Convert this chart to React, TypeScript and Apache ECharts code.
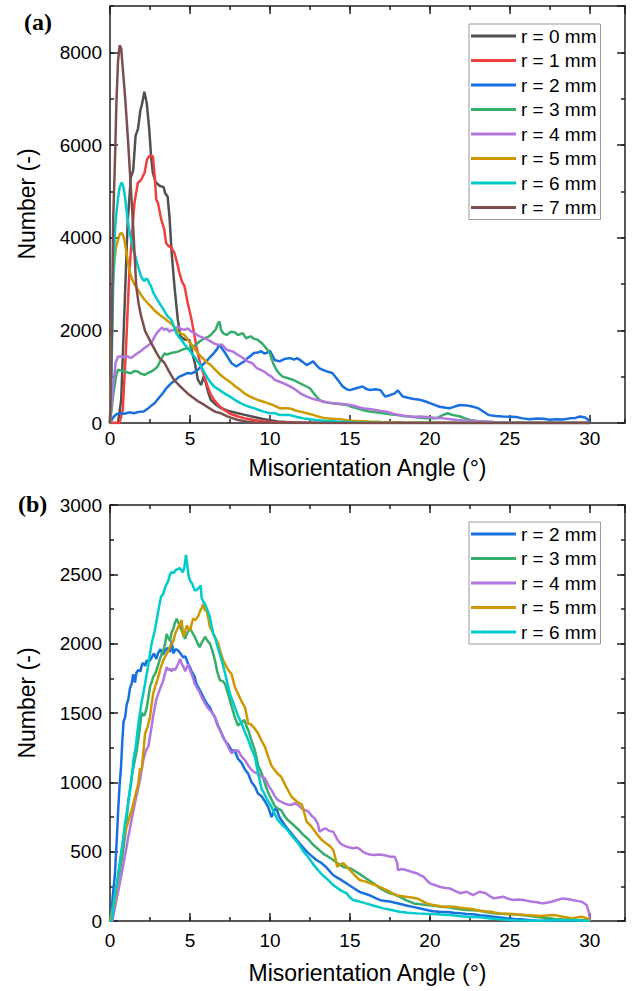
import React, { useEffect, useRef } from "react";
import * as echarts from "echarts";

// ---------- data ----------
const namesA = ["r = 0 mm", "r = 1 mm", "r = 2 mm", "r = 3 mm", "r = 4 mm", "r = 5 mm", "r = 6 mm", "r = 7 mm"];
const namesB = ["r = 2 mm", "r = 3 mm", "r = 4 mm", "r = 5 mm", "r = 6 mm"];
const colorsA = ["#515151", "#F14040", "#1A6FDF", "#37AD6B", "#B177DE", "#CC9900", "#00CBCC", "#7D4E4E"];
const colorsB = ["#1A6FDF", "#37AD6B", "#B177DE", "#CC9900", "#00CBCC"];

const xTicks = [0, 5, 10, 15, 20, 25, 30];

// panel (a): [angle, number]
const a_r0 = [[0,0],[0.5,0],[0.7,500],[0.9,2400],[1.1,4300],[1.3,5300],[1.45,5450],[1.6,6200],[1.75,6350],[1.9,6750],[2.0,6880],[2.15,7150],[2.3,6900],[2.45,6350],[2.57,5750],[2.68,5400],[2.85,5200],[3.1,5120],[3.35,5090],[3.45,4960],[3.6,4890],[3.72,4450],[3.85,3700],[4.03,2950],[4.24,2230],[4.4,1870],[4.66,1800],[4.97,1790],[5.15,1500],[5.3,1300],[5.5,930],[5.7,820],[5.85,1000],[6.0,860],[6.15,650],[6.3,500],[6.6,400],[6.95,320],[7.4,260],[8.0,210],[8.5,170],[9.0,130],[9.5,90],[10,60],[10.5,35],[11,20],[12,8],[14,3],[16,0],[30,0]];
const a_r1 = [[0,0],[0.6,0],[0.8,300],[1.0,1600],[1.2,3200],[1.4,4200],[1.53,4750],[1.74,5180],[1.95,5250],[2.16,5400],[2.32,5690],[2.45,5760],[2.68,5760],[2.8,5300],[2.89,4820],[3.0,4750],[3.2,4400],[3.4,4170],[3.5,3890],[3.65,3820],[3.8,3800],[4.03,3670],[4.2,3450],[4.34,3240],[4.5,3050],[4.66,2950],[4.86,2590],[5.1,2230],[5.25,1950],[5.4,1650],[5.55,1420],[5.7,1220],[5.9,1000],[6.1,790],[6.3,620],[6.5,500],[6.8,380],[7.15,280],[7.5,200],[8.0,140],[8.5,95],[9,65],[9.5,40],[10,20],[11,8],[12,3],[14,0],[30,0]];
const a_r2 = [[0,0],[0.2,120],[0.4,190],[0.6,210],[0.9,200],[1.2,230],[1.5,210],[1.8,240],[2.1,250],[2.4,320],[2.6,380],[2.8,430],[3.05,540],[3.3,640],[3.55,760],[3.83,860],[4.1,930],[4.34,1000],[4.6,1040],[4.86,1080],[5.1,1070],[5.28,1100],[5.5,1150],[5.7,1220],[5.9,1290],[6.1,1360],[6.3,1440],[6.5,1510],[6.7,1600],[6.84,1690],[7.0,1610],[7.2,1510],[7.4,1400],[7.6,1290],[7.9,1220],[8.2,1290],[8.4,1330],[8.6,1400],[8.8,1450],[9.0,1510],[9.25,1520],[9.45,1550],[9.65,1500],[9.85,1520],[10.0,1560],[10.3,1360],[10.6,1330],[10.9,1380],[11.25,1400],[11.5,1370],[11.7,1400],[12.0,1330],[12.3,1250],[12.5,1290],[12.7,1330],[12.9,1250],[13.1,1180],[13.5,1120],[13.9,1080],[14.2,950],[14.55,790],[14.8,730],[15.0,710],[15.4,750],[15.8,790],[16.0,740],[16.25,710],[16.6,730],[16.9,710],[17.2,570],[17.5,600],[17.8,640],[18.0,700],[18.3,570],[18.7,540],[19.0,520],[19.35,500],[19.7,470],[20,430],[20.3,390],[20.6,350],[21.0,330],[21.25,320],[21.6,360],[21.9,390],[22.3,380],[22.7,350],[23.0,320],[23.2,280],[23.5,210],[23.7,170],[24.1,150],[24.55,140],[25.0,135],[25.4,130],[25.8,100],[26.25,80],[26.7,95],[27.1,90],[27.5,70],[27.9,80],[28.3,75],[28.75,100],[29.1,110],[29.4,140],[29.7,120],[29.9,70],[30,0]];
const a_r3 = [[0,0],[0.2,600],[0.4,1050],[0.5,1150],[0.7,1130],[0.9,1110],[1.1,1090],[1.32,1075],[1.5,1120],[1.74,1110],[1.95,1060],[2.16,1040],[2.4,1080],[2.57,1110],[2.8,1160],[2.98,1220],[3.2,1380],[3.4,1500],[3.6,1480],[3.8,1510],[4.0,1520],[4.24,1540],[4.5,1580],[4.76,1610],[5.0,1600],[5.2,1650],[5.4,1700],[5.6,1760],[5.9,1830],[6.1,1850],[6.3,1900],[6.5,1980],[6.6,2010],[6.75,2150],[6.84,2190],[6.95,2000],[7.1,1930],[7.3,1900],[7.55,1970],[7.8,1960],[8.0,1900],[8.3,1940],[8.5,1830],[8.8,1870],[9.0,1820],[9.2,1800],[9.5,1720],[9.8,1600],[10.0,1500],[10.2,1290],[10.4,1150],[10.6,1060],[10.8,1000],[11.1,970],[11.45,930],[11.8,870],[12.1,820],[12.5,750],[12.7,660],[12.9,570],[13.1,500],[13.3,460],[13.6,440],[13.9,425],[14.3,410],[14.8,390],[15.1,350],[15.4,320],[15.8,280],[16.2,250],[16.6,230],[17.1,210],[17.5,190],[17.9,175],[18.3,150],[18.7,140],[19.2,120],[19.8,100],[20.4,100],[20.8,170],[21.1,210],[21.4,175],[21.9,140],[22.2,100],[22.5,65],[23.0,40],[23.3,30],[24.0,15],[24.6,10],[26,3],[28,0],[30,0]];
const a_r4 = [[0,0],[0.2,800],[0.35,1300],[0.5,1430],[0.7,1440],[0.9,1420],[1.1,1440],[1.32,1400],[1.5,1450],[1.74,1510],[1.95,1560],[2.16,1620],[2.4,1680],[2.57,1720],[2.8,1870],[2.95,1950],[3.1,2010],[3.25,2060],[3.4,2010],[3.55,2040],[3.7,1970],[3.85,2000],[4.0,2010],[4.24,2080],[4.45,2030],[4.66,2010],[4.85,2040],[4.97,2010],[5.1,1970],[5.28,1940],[5.45,1900],[5.6,1870],[5.9,1830],[6.1,1800],[6.3,1760],[6.5,1720],[6.7,1690],[7.0,1690],[7.3,1580],[7.5,1560],[7.7,1540],[7.95,1480],[8.2,1430],[8.4,1380],[8.6,1330],[8.9,1290],[9.2,1180],[9.4,1150],[9.65,1110],[9.85,1050],[10.1,1000],[10.3,930],[10.6,890],[10.9,850],[11.25,790],[11.6,720],[11.9,640],[12.3,570],[12.6,530],[12.9,500],[13.3,470],[13.7,440],[14.1,420],[14.55,410],[14.9,395],[15.2,380],[15.5,345],[15.8,320],[16.2,300],[16.6,280],[16.95,260],[17.3,245],[17.7,200],[18.1,175],[18.5,150],[19.0,135],[19.4,140],[19.8,130],[20.3,115],[20.85,100],[21.3,80],[21.7,65],[22.1,55],[22.5,50],[23,40],[23.5,30],[24.0,20],[24.6,15],[25.5,10],[27,5],[30,3]];
const a_r5 = [[0,0],[0.1,1500],[0.17,2950],[0.28,3500],[0.38,3810],[0.5,3950],[0.62,4080],[0.73,4100],[0.82,4050],[0.9,3950],[1.0,3750],[1.1,3520],[1.2,3330],[1.32,3160],[1.5,3010],[1.74,2880],[1.95,2760],[2.16,2660],[2.35,2590],[2.57,2510],[2.75,2440],[2.98,2370],[3.2,2310],[3.4,2260],[3.6,2200],[3.83,2150],[4.0,2080],[4.24,1970],[4.45,1930],[4.66,1900],[4.9,1780],[5.1,1690],[5.3,1590],[5.5,1510],[5.7,1430],[5.9,1360],[6.1,1300],[6.3,1250],[6.5,1180],[6.7,1110],[6.9,1040],[7.15,970],[7.4,910],[7.6,860],[7.8,800],[8.0,750],[8.2,700],[8.4,640],[8.7,580],[9.0,530],[9.3,490],[9.6,460],[9.85,430],[10.1,400],[10.3,370],[10.6,320],[10.9,320],[11.25,315],[11.6,270],[11.9,245],[12.3,210],[12.7,175],[13.1,130],[13.5,100],[13.9,90],[14.4,80],[14.8,60],[15.2,50],[15.7,40],[16.2,30],[17,20],[18.3,10],[20,5],[22,0],[30,0]];
const a_r6 = [[0,0],[0.1,1200],[0.2,3000],[0.3,4100],[0.38,4460],[0.5,4850],[0.6,5080],[0.73,5190],[0.82,5120],[0.9,4970],[1.0,4700],[1.1,4400],[1.2,4170],[1.32,3960],[1.48,3720],[1.64,3520],[1.8,3320],[1.95,3160],[2.05,3100],[2.16,3060],[2.25,3120],[2.36,3090],[2.47,3000],[2.57,2950],[2.7,2820],[2.89,2700],[3.1,2580],[3.3,2480],[3.45,2390],[3.6,2300],[3.83,2230],[4.0,2080],[4.14,1940],[4.3,1860],[4.45,1800],[4.65,1700],[4.86,1620],[5.05,1530],[5.28,1430],[5.5,1320],[5.7,1220],[5.9,1090],[6.1,970],[6.3,870],[6.5,790],[6.8,720],[7.15,640],[7.5,570],[7.8,500],[8.1,440],[8.4,390],[8.7,350],[9.0,320],[9.3,280],[9.6,245],[9.95,215],[10.3,210],[10.6,175],[10.9,175],[11.25,170],[11.7,130],[12.1,100],[12.5,80],[12.9,65],[13.5,45],[14.2,30],[15.4,10],[17,3],[19,0],[30,0]];
const a_r7 = [[0,0],[0.1,1500],[0.2,4400],[0.31,5650],[0.4,6900],[0.5,7800],[0.6,8150],[0.7,8080],[0.8,7650],[0.94,7050],[1.05,6500],[1.15,5970],[1.31,5040],[1.46,4170],[1.64,2950],[1.8,2550],[1.95,2300],[2.2,1980],[2.57,1730],[2.9,1520],[3.1,1400],[3.4,1300],[3.7,1110],[4.0,930],[4.3,820],[4.6,720],[4.85,640],[5.1,570],[5.5,470],[5.9,390],[6.3,300],[6.6,240],[6.95,210],[7.3,150],[7.6,110],[8.0,65],[8.5,35],[9,18],[10,5],[11,0],[30,0]];

// panel (b)
const b_r2 = [[0,0],[0.15,150],[0.31,340],[0.45,650],[0.52,820],[0.6,980],[0.69,1110],[0.77,1300],[0.85,1440],[0.95,1470],[1.04,1560],[1.15,1600],[1.25,1680],[1.35,1710],[1.45,1780],[1.56,1720],[1.65,1790],[1.77,1810],[1.9,1800],[2.0,1850],[2.08,1860],[2.2,1840],[2.3,1880],[2.45,1870],[2.6,1900],[2.75,1930],[2.9,1890],[3.0,1930],[3.15,1960],[3.3,1920],[3.44,1950],[3.6,1970],[3.75,1940],[3.85,2020],[3.96,1930],[4.1,1960],[4.27,1950],[4.4,1930],[4.58,1900],[4.7,1910],[4.8,1880],[4.9,1850],[5.0,1830],[5.1,1800],[5.2,1780],[5.3,1760],[5.4,1710],[5.55,1680],[5.73,1640],[5.94,1590],[6.1,1560],[6.25,1540],[6.4,1500],[6.56,1470],[6.7,1420],[6.88,1380],[7.05,1330],[7.19,1300],[7.4,1270],[7.6,1230],[7.8,1230],[8.0,1170],[8.23,1140],[8.45,1090],[8.65,1060],[8.85,1000],[9.06,970],[9.25,920],[9.48,900],[9.7,860],[9.9,820],[10.1,750],[10.25,790],[10.4,820],[10.55,760],[10.7,730],[11.0,680],[11.35,630],[11.7,580],[12.0,540],[12.3,500],[12.6,470],[12.9,440],[13.2,420],[13.5,390],[13.96,330],[14.4,300],[14.8,270],[15.2,240],[15.6,210],[16.0,195],[16.25,185],[16.6,165],[16.9,150],[17.2,145],[17.5,140],[18.1,125],[18.6,110],[19.0,100],[19.4,90],[19.8,80],[20.2,70],[20.7,65],[21.1,65],[21.5,60],[22.0,55],[22.3,50],[22.7,48],[23.1,42],[23.5,38],[24.0,30],[24.4,25],[24.8,20],[25.3,15],[25.7,12],[26.3,5],[26.9,0],[27.5,5],[28.1,5],[28.7,3],[29.4,2],[30,5]];
const b_r3 = [[0,0],[0.2,120],[0.52,300],[0.75,450],[0.94,610],[1.05,740],[1.15,870],[1.25,950],[1.35,1040],[1.5,1130],[1.67,1230],[1.8,1330],[1.98,1500],[2.15,1480],[2.3,1540],[2.4,1610],[2.5,1690],[2.6,1720],[2.7,1760],[2.85,1790],[3.02,1850],[3.15,1900],[3.33,1950],[3.45,2000],[3.54,2070],[3.65,2040],[3.75,2020],[3.85,2080],[3.96,2110],[4.06,2150],[4.17,2180],[4.28,2150],[4.38,2120],[4.5,2090],[4.6,2060],[4.69,2035],[4.8,2070],[4.9,2090],[5.0,2110],[5.15,2080],[5.3,2050],[5.45,2010],[5.6,1975],[5.75,2010],[5.94,2050],[6.1,2020],[6.25,2000],[6.4,1950],[6.56,1880],[6.7,1800],[6.88,1735],[7.05,1730],[7.19,1710],[7.35,1650],[7.5,1590],[7.65,1530],[7.8,1470],[8.0,1410],[8.2,1430],[8.4,1450],[8.55,1400],[8.65,1375],[8.85,1300],[9.06,1230],[9.27,1120],[9.5,1060],[9.69,990],[9.85,940],[10.0,900],[10.3,830],[10.5,810],[10.7,800],[10.9,760],[11.1,730],[11.4,700],[11.77,660],[12.1,620],[12.4,590],[12.7,550],[13.0,520],[13.4,480],[13.7,460],[13.96,440],[14.3,410],[14.6,390],[15.0,380],[15.2,368],[15.6,340],[16.0,308],[16.5,270],[16.9,235],[17.2,215],[17.5,200],[17.8,190],[18.1,175],[18.5,150],[19.0,127],[19.4,120],[19.8,115],[20.3,110],[20.7,103],[21.1,100],[21.5,91],[21.9,85],[22.3,79],[22.7,78],[23.1,74],[23.5,65],[24.0,55],[24.4,52],[24.8,50],[25.3,46],[25.7,43],[26.2,36],[26.6,31],[27.0,25],[27.4,19],[27.8,15],[28.25,12],[28.7,10],[29.1,7],[29.6,6],[30,5]];
const b_r4 = [[0,0],[0.15,0],[0.4,150],[0.73,340],[0.95,480],[1.15,610],[1.35,730],[1.56,850],[1.75,950],[1.88,1020],[2.08,1160],[2.25,1230],[2.4,1260],[2.5,1330],[2.6,1400],[2.7,1480],[2.8,1540],[2.9,1600],[3.02,1640],[3.15,1680],[3.33,1735],[3.45,1790],[3.54,1830],[3.65,1810],[3.75,1820],[3.85,1800],[3.96,1820],[4.05,1810],[4.17,1830],[4.28,1860],[4.38,1890],[4.5,1850],[4.6,1830],[4.7,1800],[4.8,1830],[4.9,1850],[5.0,1810],[5.1,1780],[5.2,1750],[5.3,1710],[5.45,1680],[5.6,1650],[5.75,1610],[5.94,1570],[6.1,1540],[6.25,1520],[6.4,1500],[6.56,1470],[6.7,1430],[6.77,1400],[6.98,1350],[7.15,1310],[7.29,1280],[7.45,1240],[7.6,1210],[7.8,1230],[8.0,1230],[8.2,1190],[8.44,1160],[8.65,1120],[8.85,1090],[9.06,1070],[9.27,1064],[9.5,1040],[9.69,1030],[9.9,980],[10.1,944],[10.3,900],[10.5,872],[10.7,860],[10.9,848],[11.1,840],[11.35,836],[11.55,850],[11.77,836],[12.0,810],[12.2,800],[12.4,790],[12.6,760],[12.8,740],[13.0,700],[13.1,644],[13.3,660],[13.5,668],[13.7,650],[13.96,644],[14.2,590],[14.4,560],[14.6,545],[14.8,536],[15.0,530],[15.2,524],[15.4,530],[15.6,520],[15.8,500],[16.0,488],[16.25,480],[16.5,476],[16.8,480],[17.1,476],[17.3,470],[17.5,464],[17.8,464],[17.95,420],[18.0,368],[18.25,375],[18.5,368],[18.85,355],[19.2,343],[19.4,330],[19.6,320],[19.8,295],[20.0,271],[20.3,260],[20.6,247],[20.9,240],[21.25,235],[21.6,215],[21.9,200],[22.3,211],[22.7,187],[23.1,211],[23.5,200],[23.8,175],[24.0,163],[24.3,170],[24.6,175],[24.9,160],[25.2,151],[25.5,155],[25.85,151],[26.1,145],[26.4,139],[26.7,135],[27.0,127],[27.3,132],[27.6,139],[27.9,150],[28.3,163],[28.6,158],[28.9,151],[29.2,145],[29.5,139],[29.8,115],[29.95,60],[30,0]];
const b_r5 = [[0,0],[0.3,130],[0.6,400],[0.83,584],[1.0,660],[1.2,740],[1.4,820],[1.56,896],[1.75,980],[1.88,1100],[1.98,1090],[2.19,1350],[2.35,1400],[2.5,1470],[2.6,1560],[2.7,1640],[2.85,1700],[3.02,1760],[3.15,1820],[3.33,1880],[3.5,1920],[3.65,1950],[3.8,1990],[3.96,2020],[4.1,2080],[4.27,2120],[4.4,2150],[4.48,2170],[4.58,2050],[4.7,2090],[4.8,2130],[4.9,2110],[5.0,2095],[5.1,2140],[5.2,2180],[5.35,2170],[5.52,2200],[5.65,2240],[5.75,2260],[5.83,2287],[5.94,2240],[6.04,2240],[6.15,2180],[6.25,2120],[6.35,2100],[6.46,2070],[6.6,2040],[6.77,2000],[6.9,1940],[7.08,1880],[7.25,1840],[7.4,1810],[7.6,1780],[7.8,1690],[8.0,1640],[8.2,1590],[8.44,1540],[8.55,1480],[8.65,1420],[8.8,1420],[8.96,1400],[9.1,1380],[9.27,1350],[9.48,1300],[9.69,1256],[9.9,1180],[10.1,1120],[10.3,1088],[10.5,1060],[10.7,1040],[11.0,970],[11.35,896],[11.7,860],[12.0,840],[12.3,716],[12.6,680],[12.9,632],[13.2,590],[13.5,560],[13.75,540],[13.96,512],[14.1,450],[14.2,391],[14.4,410],[14.6,416],[14.8,390],[15.0,368],[15.3,330],[15.6,296],[16.0,284],[16.3,270],[16.6,259],[16.95,240],[17.3,223],[17.6,205],[17.9,187],[18.2,180],[18.5,175],[18.85,170],[19.2,163],[19.5,145],[19.8,127],[20.2,115],[20.5,110],[20.8,103],[21.2,105],[21.5,103],[21.9,95],[22.3,91],[22.7,85],[23.1,74],[23.45,70],[23.8,67],[24.1,60],[24.4,55],[24.8,52],[25.2,50],[25.6,46],[26.0,43],[26.5,40],[26.9,36],[27.3,40],[27.7,43],[28.0,38],[28.3,31],[28.6,25],[28.9,19],[29.2,25],[29.5,31],[29.8,19],[29.95,10],[30,0]];
const b_r6 = [[0,0],[0.1,0],[0.3,180],[0.52,343],[0.75,530],[0.94,703],[1.15,860],[1.35,1015],[1.46,1160],[1.6,1250],[1.77,1420],[1.95,1560],[2.19,1711],[2.4,1850],[2.6,2000],[2.8,2095],[2.95,2190],[3.1,2287],[3.2,2340],[3.33,2360],[3.5,2420],[3.65,2455],[3.75,2500],[3.85,2515],[4.0,2510],[4.1,2530],[4.27,2540],[4.38,2545],[4.55,2515],[4.65,2550],[4.75,2640],[4.82,2580],[4.9,2500],[5.0,2455],[5.15,2430],[5.3,2383],[5.45,2390],[5.6,2407],[5.67,2420],[5.73,2330],[5.85,2300],[5.94,2287],[6.1,2240],[6.25,2191],[6.35,2130],[6.46,2071],[6.55,2050],[6.67,2000],[6.8,1950],[6.98,1880],[7.1,1830],[7.2,1783],[7.35,1710],[7.5,1639],[7.65,1590],[7.8,1543],[8.0,1480],[8.23,1423],[8.45,1360],[8.65,1303],[8.85,1240],[9.06,1183],[9.27,1060],[9.48,950],[9.6,930],[9.8,880],[10.1,824],[10.3,770],[10.5,728],[10.8,690],[11.1,656],[11.4,610],[11.77,560],[12.1,500],[12.4,460],[12.7,410],[13.0,368],[13.3,330],[13.6,300],[13.96,259],[14.3,230],[14.6,210],[14.8,200],[15.0,170],[15.2,151],[15.6,140],[16.0,127],[16.5,110],[17.1,91],[17.6,80],[18.1,67],[18.6,60],[19.2,55],[19.7,52],[20.2,50],[20.7,46],[21.25,43],[21.8,36],[22.3,31],[22.8,29],[23.3,26],[23.8,18],[24.4,12],[24.9,8],[25.4,5],[26,3],[27,2],[28,5],[29,8],[30,0]];

const seriesA = [a_r0, a_r1, a_r2, a_r3, a_r4, a_r5, a_r6, a_r7];
const seriesB = [b_r2, b_r3, b_r4, b_r5, b_r6];

// ---------- styling ----------
const FONT = '"Liberation Sans", Arial, sans-serif';
const AX = "#222";
const XMAX = 32.2;

function xAxesFor(grid: number, labelMargin: number, nameGap: number) {
  const base: any = { type: "value", gridIndex: grid, min: 0, max: XMAX, splitLine: { show: false } };
  const line = { show: true, onZero: false, lineStyle: { color: AX, width: 1.5 } };
  const noLine = { show: false, onZero: false };
  const tick = (len: number) => ({ show: true, inside: true, length: len, lineStyle: { color: AX, width: 1.5 } });
  return [
    {
      ...base, position: "bottom", interval: 5, axisLine: line, axisTick: tick(8),
      axisLabel: {
        margin: labelMargin, fontSize: 19, color: "#000", fontFamily: FONT, showMaxLabel: false,
        formatter: (v: number) => (xTicks.indexOf(v) >= 0 ? String(v) : ""),
      },
      name: "Misorientation Angle (°)", nameLocation: "middle", nameGap,
      nameTextStyle: { fontSize: 23, color: "#000", fontFamily: FONT },
    },
    { ...base, position: "bottom", interval: 2.5, axisLine: noLine, axisTick: tick(4), axisLabel: { show: false } },
    { ...base, position: "top", interval: 5, axisLine: line, axisTick: tick(8), axisLabel: { show: false } },
    { ...base, position: "top", interval: 2.5, axisLine: noLine, axisTick: tick(4), axisLabel: { show: false } },
  ];
}

function yAxesFor(grid: number, max: number, major: number) {
  const base: any = { type: "value", gridIndex: grid, min: 0, max, splitLine: { show: false } };
  const line = { show: true, onZero: false, lineStyle: { color: AX, width: 1.5 } };
  const noLine = { show: false, onZero: false };
  const tick = (len: number) => ({ show: true, inside: true, length: len, lineStyle: { color: AX, width: 1.5 } });
  return [
    {
      ...base, position: "left", interval: major, axisLine: line, axisTick: tick(8),
      axisLabel: {
        margin: 8, fontSize: 19, color: "#000", fontFamily: FONT, showMaxLabel: max % major === 0,
        formatter: (v: number) => (v % major === 0 ? String(v) : ""),
      },
    },
    { ...base, position: "left", interval: major / 2, axisLine: noLine, axisTick: tick(4), axisLabel: { show: false } },
    { ...base, position: "right", interval: major, axisLine: line, axisTick: tick(8), axisLabel: { show: false } },
    { ...base, position: "right", interval: major / 2, axisLine: noLine, axisTick: tick(4), axisLabel: { show: false } },
  ];
}

function legendFor(names: string[], top: number) {
  return {
    data: names,
    orient: "vertical",
    left: 469,
    top,
    padding: [1, 4, 1, 2],
    icon: "rect",
    itemWidth: 45,
    itemHeight: 3,
    itemGap: 2.5,
    borderColor: "#999",
    borderWidth: 1,
    borderRadius: 0,
    backgroundColor: "#fff",
    textStyle: { fontSize: 19, color: "#000", fontFamily: FONT, lineHeight: 22 },
    selectedMode: false,
  };
}

export default function App() {
  const ref = useRef<HTMLDivElement>(null);
  useEffect(() => {
    if (!ref.current) return;
    const chart = echarts.init(ref.current, null, { renderer: "svg" });
    const mk = (name: string, color: string, data: number[][], axisIdx: number, z: number) => ({
      name, type: "line", data, xAxisIndex: axisIdx, yAxisIndex: axisIdx,
      showSymbol: false, symbol: "none", z,
      lineStyle: { color, width: 2.5 }, itemStyle: { color },
    });
    const series: any[] = [];
    seriesA.forEach((d, i) => series.push(mk(namesA[i], colorsA[i], d, 0, 2)));
    seriesB.forEach((d, i) => series.push(mk(namesB[i], colorsB[i], d, 4, 2)));

    chart.setOption({
      animation: false,
      backgroundColor: "#fff",
      grid: [
        { left: 110, top: 6, width: 515, height: 417, containLabel: false },
        { left: 110, top: 505, width: 515, height: 416, containLabel: false },
      ],
      xAxis: [...xAxesFor(0, 6, 33), ...xAxesFor(1, 10, 40)],
      yAxis: [...yAxesFor(0, 9000, 2000), ...yAxesFor(1, 3000, 500)],
      legend: [legendFor(namesA, 24), legendFor(namesB, 522)],
      series,
      graphic: [
        { type: "text", left: 24, top: 10, style: { text: "(a)", font: 'bold 24px "Liberation Serif", "Times New Roman", serif', fill: "#000" } },
        { type: "text", left: 18, top: 492, style: { text: "(b)", font: 'bold 24px "Liberation Serif", "Times New Roman", serif', fill: "#000" } },
        { type: "text", x: 27, y: 204, rotation: Math.PI / 2, style: { text: "Number (-)", font: '23px "Liberation Sans", Arial, sans-serif', fill: "#000", align: "center", verticalAlign: "middle" } },
        { type: "text", x: 27, y: 703, rotation: Math.PI / 2, style: { text: "Number (-)", font: '23px "Liberation Sans", Arial, sans-serif', fill: "#000", align: "center", verticalAlign: "middle" } },
      ],
    });
    return () => chart.dispose();
  }, []);
  return <div ref={ref} style={{ position: "absolute", left: 0, top: 0, width: 633, height: 991, background: "#fff" }} />;
}
